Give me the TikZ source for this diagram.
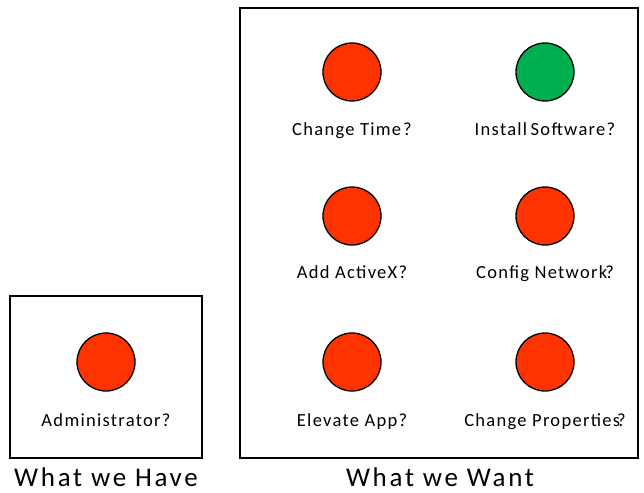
\documentclass[tikz,border=0pt]{standalone}
\usepackage{fontspec}
\setmainfont{Carlito}
\definecolor{stopred}{HTML}{FF3300}
\definecolor{gogreen}{HTML}{00B050}
\begin{document}
\begin{tikzpicture}[x=1pt,y=-1pt,
  panel/.style={draw=black,line width=1.6pt},
  lamp/.style={circle,draw=black,line width=1.3pt,minimum size=58pt,inner sep=0pt},
  redlamp/.style={lamp,fill=stopred},
  greenlamp/.style={lamp,fill=gogreen},
  caption/.style={font=\fontsize{18.5}{20}\selectfont\addfontfeature{LetterSpace=7},inner sep=0pt,anchor=base},
  heading/.style={font=\fontsize{27}{30}\selectfont\addfontfeature{LetterSpace=10},inner sep=0pt,anchor=base}]
\useasboundingbox (0,0) rectangle (644,492);
% panels
\draw[panel] (10,296) rectangle (202,458);
\draw[panel] (240,8) rectangle (638,458);
% current permission
\node[redlamp] (adm) at (106,362) {};
\node[caption] (admt) at (106,426) {Administrator?};
\node[heading] (have) at (106,486) {What we Have};
% desired permissions
\node[redlamp] (time) at (352,72) {};
\node[caption] (timet) at (352,135) {Change Time\kern2pt?};
\node[greenlamp] (soft) at (545,72) {};
\node[caption] (softt) at (545,135) {Install\kern-2pt\ Software?};
\node[redlamp] (activex) at (352,216) {};
\node[caption] (activext) at (352,278) {Add ActiveX?};
\node[redlamp] (net) at (545,216) {};
\node[caption] (nett) at (545,278) {Config Network\kern-2pt?};
\node[redlamp] (elev) at (352,362) {};
\node[caption] (elevt) at (352,426) {Elevate App?};
\node[redlamp] (prop) at (545,362) {};
\node[caption] (propt) at (545,426) {Change Properties\kern-3pt?};
\node[heading] (want) at (440,486) {What we Want};
\end{tikzpicture}
\end{document}
